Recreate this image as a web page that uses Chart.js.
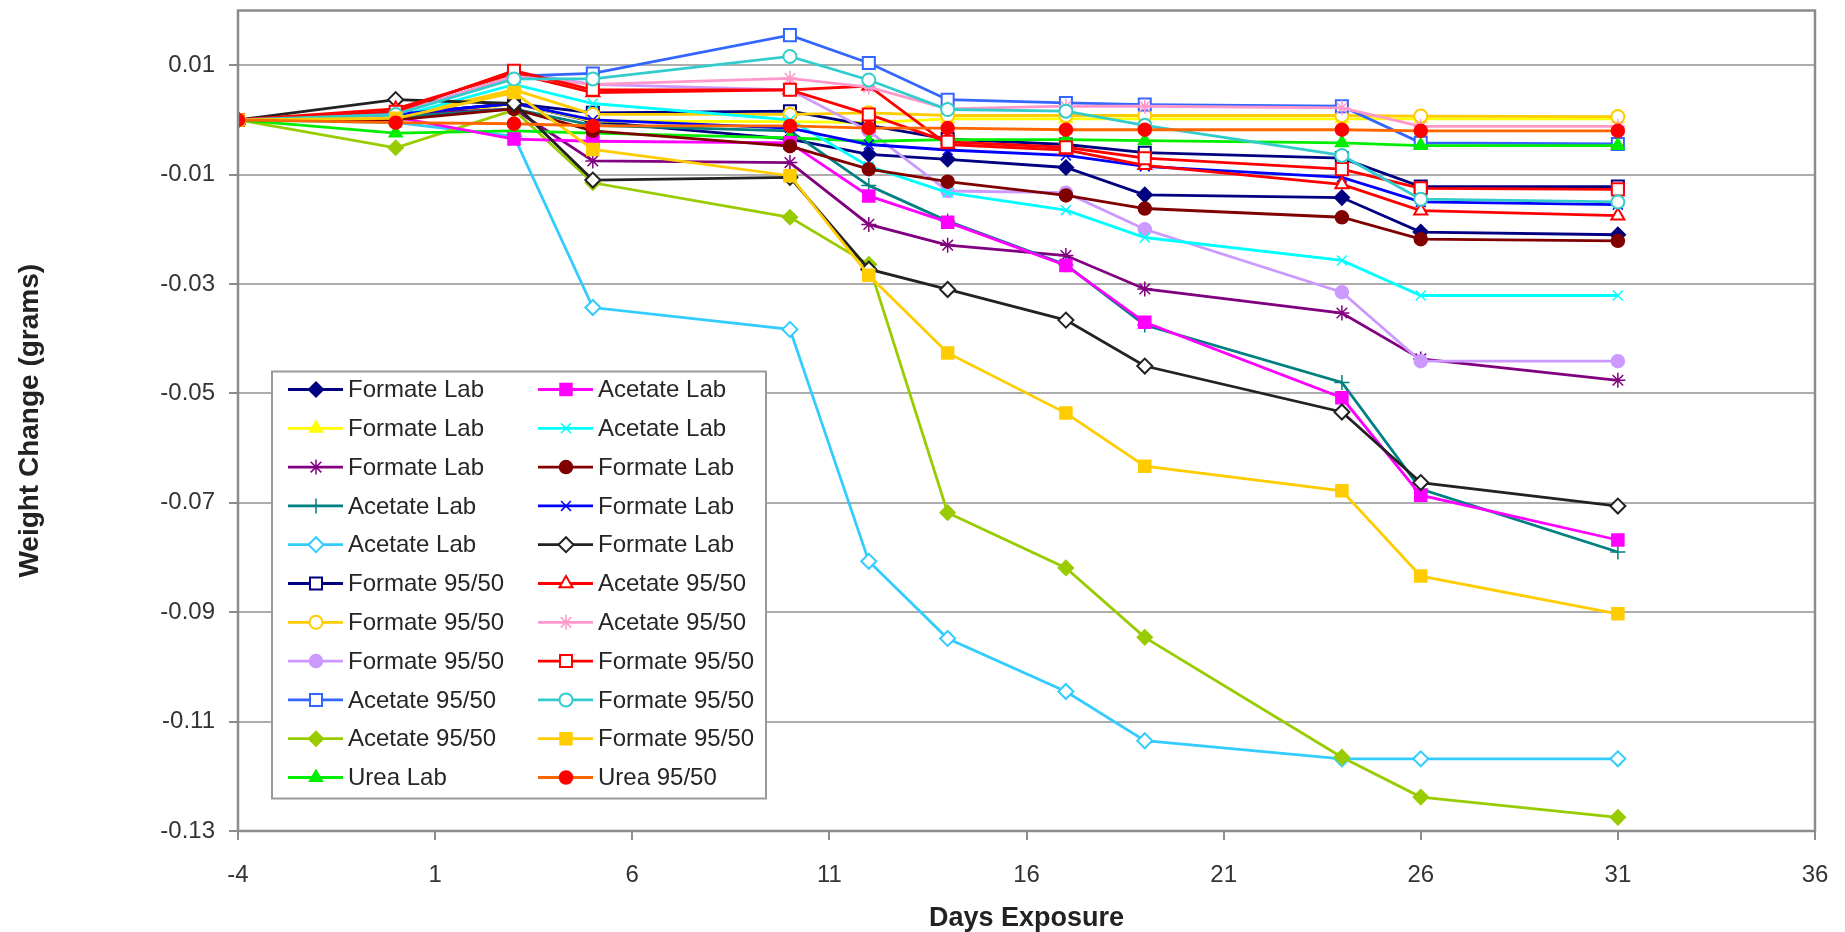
<!DOCTYPE html>
<html>
<head>
<meta charset="utf-8">
<title>Weight Change vs Days Exposure</title>
<script src="https://cdn.jsdelivr.net/npm/chart.js@4.4.0/dist/chart.umd.min.js"></script>
<style>
  html, body { margin: 0; padding: 0; background: #fff; }
  #wrap { width: 1845px; height: 932px; position: relative; }
</style>
</head>
<body>
<div id="wrap"><canvas id="weightChart"></canvas></div>
<script>
// x values (days) shared by every series
const days = [-4, 0, 3, 5, 10, 12, 14, 17, 19, 24, 26, 31];
const yTickValues = [0.01, -0.01, -0.03, -0.05, -0.07, -0.09, -0.11, -0.13];

// weight change (grams), one array per specimen
const formateLabNavy    = [0, 0.0010, 0.0030, -0.0003, -0.0035, -0.0063, -0.0072, -0.0087, -0.0137, -0.0142, -0.0205, -0.0210];
const formateLabYellow  = [0, 0.0000, 0.0030, -0.0002, -0.0003, -0.0005, 0.0002, 0.0002, 0.0002, 0.0002, 0.0002, 0.0002];
const formateLabPurple  = [0, 0.0010, 0.0020, -0.0075, -0.0078, -0.0191, -0.0229, -0.0248, -0.0309, -0.0353, -0.0437, -0.0476];
const acetateLabTeal    = [0, 0.0005, 0.0020, -0.0010, -0.0020, -0.0120, -0.0185, -0.0265, -0.0375, -0.0480, -0.0675, -0.0790];
const acetateLabSky     = [0, -0.0005, -0.0030, -0.0343, -0.0383, -0.0807, -0.0948, -0.1045, -0.1135, -0.1168, -0.1168, -0.1168];
const formate9550Navy   = [0, 0.0010, 0.0030, 0.0013, 0.0016, -0.0010, -0.0035, -0.0045, -0.0060, -0.0070, -0.0122, -0.0122];
const formate9550GoldO  = [0, 0.0005, 0.0055, 0.0010, 0.0010, 0.0013, 0.0008, 0.0008, 0.0008, 0.0008, 0.0007, 0.0006];
const formate9550Lav    = [0, 0.0015, 0.0088, 0.0065, 0.0055, -0.0020, -0.0130, -0.0133, -0.0200, -0.0315, -0.0441, -0.0441];
const acetate9550Blue   = [0, 0.0010, 0.0080, 0.0085, 0.0155, 0.0104, 0.0037, 0.0031, 0.0028, 0.0025, -0.0042, -0.0044];
const acetate9550Green  = [0, -0.0051, 0.0018, -0.0115, -0.0178, -0.0264, -0.0718, -0.0819, -0.0946, -0.1165, -0.1238, -0.1275];
const ureaLab           = [0, -0.0024, -0.0020, -0.0024, -0.0033, -0.0039, -0.0036, -0.0036, -0.0038, -0.0042, -0.0047, -0.0047];
const acetateLabMagenta = [0, 0.0005, -0.0035, -0.0039, -0.0042, -0.0139, -0.0187, -0.0266, -0.0370, -0.0508, -0.0686, -0.0768];
const acetateLabCyan    = [0, 0.0005, 0.0065, 0.0030, 0.0000, -0.0085, -0.0133, -0.0165, -0.0215, -0.0257, -0.0321, -0.0321];
const formateLabMaroon  = [0, 0.0000, 0.0020, -0.0020, -0.0048, -0.0090, -0.0113, -0.0138, -0.0162, -0.0178, -0.0218, -0.0221];
const formateLabBlue    = [0, 0.0010, 0.0030, 0.0000, -0.0015, -0.0045, -0.0055, -0.0065, -0.0085, -0.0105, -0.0150, -0.0155];
const formateLabBlack   = [0, 0.0037, 0.0030, -0.0110, -0.0105, -0.0273, -0.0310, -0.0366, -0.0450, -0.0534, -0.0663, -0.0706];
const acetate9550Red    = [0, 0.0020, 0.0085, 0.0050, 0.0055, 0.0062, -0.0045, -0.0055, -0.0083, -0.0118, -0.0166, -0.0175];
const acetate9550Pink   = [0, 0.0010, 0.0080, 0.0065, 0.0076, 0.0060, 0.0020, 0.0025, 0.0025, 0.0022, -0.0012, -0.0012];
const formate9550Red    = [0, 0.0015, 0.0090, 0.0055, 0.0055, 0.0010, -0.0040, -0.0050, -0.0070, -0.0090, -0.0125, -0.0127];
const formate9550Teal   = [0, 0.0010, 0.0075, 0.0075, 0.0116, 0.0073, 0.0019, 0.0016, -0.0010, -0.0065, -0.0145, -0.0150];
const formate9550GoldF  = [0, 0.0003, 0.0050, -0.0054, -0.0102, -0.0284, -0.0426, -0.0536, -0.0633, -0.0678, -0.0834, -0.0903];
const urea9550          = [0, -0.0005, -0.0007, -0.0011, -0.0011, -0.0015, -0.0015, -0.0018, -0.0018, -0.0018, -0.0020, -0.0020];

const FONT = '"Liberation Sans", Arial, sans-serif';

// label, data, line colour, marker, marker colour, open marker?
const series = [
    ['Formate Lab',   formateLabNavy,    '#000080', 'rectRot',  '#000080', false],
    ['Formate Lab',   formateLabYellow,  '#ffff00', 'triangle', '#ffff00', false],
    ['Formate Lab',   formateLabPurple,  '#800080', 'star',     '#800080', false],
    ['Acetate Lab',   acetateLabTeal,    '#008080', 'cross',    '#008080', false],
    ['Acetate Lab',   acetateLabSky,     '#33ccff', 'rectRot',  '#33ccff', true],
    ['Formate 95/50', formate9550Navy,   '#000080', 'rect',     '#000080', true],
    ['Formate 95/50', formate9550GoldO,  '#ffcc00', 'circle',   '#ffcc00', true],
    ['Formate 95/50', formate9550Lav,    '#cc99ff', 'circle',   '#cc99ff', false],
    ['Acetate 95/50', acetate9550Blue,   '#3366ff', 'rect',     '#3366ff', true],
    ['Acetate 95/50', acetate9550Green,  '#99cc00', 'rectRot',  '#99cc00', false],
    ['Urea Lab',      ureaLab,           '#00ee00', 'triangle', '#00ee00', false],
    ['Acetate Lab',   acetateLabMagenta, '#ff00ff', 'rect',     '#ff00ff', false],
    ['Acetate Lab',   acetateLabCyan,    '#00ffff', 'crossRot', '#00ffff', false],
    ['Formate Lab',   formateLabMaroon,  '#800000', 'circle',   '#800000', false],
    ['Formate Lab',   formateLabBlue,    '#0000ff', 'crossRot', '#0000ff', false],
    ['Formate Lab',   formateLabBlack,   '#222222', 'rectRot',  '#222222', true],
    ['Acetate 95/50', acetate9550Red,    '#ff0000', 'triangle', '#ff0000', true],
    ['Acetate 95/50', acetate9550Pink,   '#ff99cc', 'star',     '#ff99cc', false],
    ['Formate 95/50', formate9550Red,    '#ff0000', 'rect',     '#ff0000', true],
    ['Formate 95/50', formate9550Teal,   '#33cccc', 'circle',   '#33cccc', true],
    ['Formate 95/50', formate9550GoldF,  '#ffcc00', 'rect',     '#ffcc00', false],
    ['Urea 95/50',    urea9550,          '#ff6600', 'circle',   '#ff0000', false]
];

const markerRadius = { rect: 8.5, rectRot: 7.5, circle: 6.5, triangle: 7.5, star: 7.5, cross: 7.5, crossRot: 7 };

const datasets = series.map(([label, values, color, marker, markColor, open], i) => ({
    label,
    data: days.map((d, j) => ({ x: d, y: values[j] })),
    borderColor: color,
    borderWidth: 2.8,
    pointStyle: marker,
    pointRadius: markerRadius[marker],
    pointHoverRadius: markerRadius[marker],
    pointBackgroundColor: open ? '#ffffff' : markColor,
    pointBorderColor: markColor,
    pointBorderWidth: open ? 2 : 1.5,
    tension: 0,
    order: series.length - i
}));

// plot frame and the two-column boxed legend inside the plot area
const frameAndLegend = {
    id: 'frameAndLegend',
    afterDatasetsDraw(chart) {
        const { ctx, chartArea: a } = chart;
        ctx.save();
        ctx.strokeStyle = '#8c8c8c';
        ctx.lineWidth = 2.5;
        ctx.strokeRect(a.left, a.top, a.right - a.left, a.bottom - a.top);

        const bx = a.left + 34, by = a.top + 361, bw = 494, bh = 427;
        ctx.fillStyle = '#ffffff';
        ctx.fillRect(bx, by, bw, bh);
        ctx.strokeStyle = '#9a9a9a';
        ctx.lineWidth = 2;
        ctx.strokeRect(bx, by, bw, bh);

        ctx.font = '24px ' + FONT;
        ctx.textBaseline = 'middle';
        chart.data.datasets.forEach((ds, i) => {
            const col = i < 11 ? 0 : 1;
            const row = i % 11;
            const x0 = bx + 16 + col * 250;
            const y = by + 18 + row * 38.8;
            ctx.strokeStyle = ds.borderColor;
            ctx.lineWidth = 2.8;
            ctx.beginPath();
            ctx.moveTo(x0, y);
            ctx.lineTo(x0 + 55, y);
            ctx.stroke();
            ctx.fillStyle = ds.pointBackgroundColor;
            ctx.strokeStyle = ds.pointBorderColor;
            ctx.lineWidth = ds.pointBorderWidth;
            Chart.helpers.drawPoint(ctx, {
                pointStyle: ds.pointStyle,
                radius: ds.pointRadius,
                rotation: 0,
                borderWidth: ds.pointBorderWidth
            }, x0 + 28, y);
            ctx.fillStyle = '#262626';
            ctx.fillText(ds.label, x0 + 60, y + 1);
        });
        ctx.restore();
    }
};

new Chart(document.getElementById('weightChart'), {
    type: 'line',
    data: { datasets },
    options: {
        responsive: true,
        maintainAspectRatio: false,
        animation: false,
        layout: { padding: { top: 5, right: 30, left: 0, bottom: 0 } },
        plugins: {
            legend: { display: false },
            tooltip: { enabled: false }
        },
        scales: {
            x: {
                type: 'linear',
                min: -4,
                max: 36,
                afterFit: s => { s.height = 101; s.paddingLeft = 0; s.paddingRight = 0; },
                border: { display: false },
                grid: { drawOnChartArea: false, drawTicks: true, tickLength: 9, tickColor: '#8c8c8c', lineWidth: 2 },
                ticks: { stepSize: 5, padding: 21, color: '#333', font: { size: 24, family: FONT } },
                title: {
                    display: true,
                    text: 'Days Exposure',
                    color: '#222',
                    font: { size: 27, weight: 'bold', family: FONT, lineHeight: 1.0 },
                    padding: { top: 0, bottom: 0 }
                }
            },
            y: {
                type: 'linear',
                min: -0.13,
                max: 0.02,
                afterBuildTicks: s => { s.ticks = yTickValues.map(v => ({ value: v })); },
                afterFit: s => { s.width = 238; s.paddingTop = 0; s.paddingBottom = 0; },
                border: { display: false },
                grid: { color: '#adadad', lineWidth: 2, drawTicks: true, tickLength: 9, tickColor: '#8c8c8c' },
                ticks: { padding: 14, color: '#333', font: { size: 24, family: FONT }, callback: v => v.toFixed(2) },
                title: {
                    display: true,
                    text: 'Weight Change (grams)',
                    color: '#222',
                    font: { size: 28, weight: 'bold', family: FONT },
                    padding: { top: 13, bottom: 0 }
                }
            }
        }
    },
    plugins: [frameAndLegend]
});
</script>
</body>
</html>
